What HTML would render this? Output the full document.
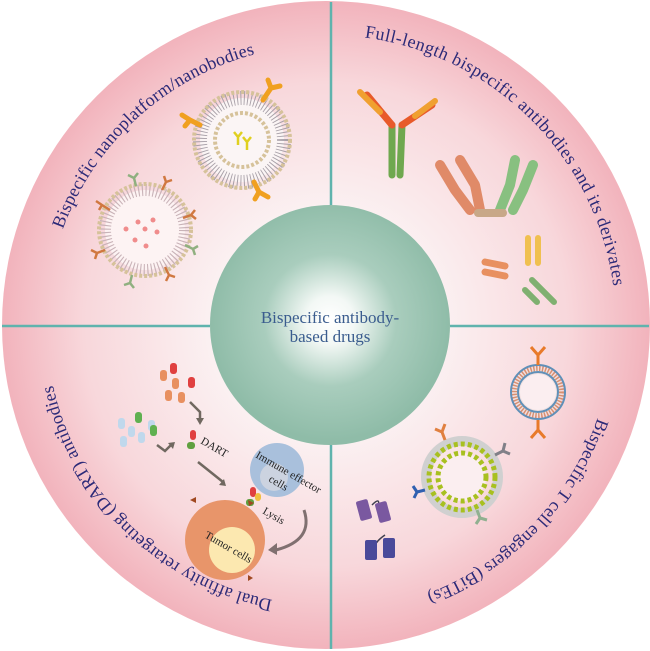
<!DOCTYPE html>
<html><head><meta charset="utf-8"><style>
html,body{margin:0;padding:0;background:#fff;}
svg{display:block;}
</style></head><body>
<svg width="650" height="651" viewBox="0 0 650 651" xmlns="http://www.w3.org/2000/svg">
<defs>
<radialGradient id="pink" cx="50%" cy="50%" r="50%">
<stop offset="0.35" stop-color="#fbf1f2"/>
<stop offset="0.75" stop-color="#f8d7db"/>
<stop offset="1" stop-color="#f2b3bc"/>
</radialGradient>
<radialGradient id="teal" cx="50%" cy="48%" r="50%">
<stop offset="0" stop-color="#ffffff"/>
<stop offset="0.2" stop-color="#f3f8f5"/>
<stop offset="0.55" stop-color="#a9cdbd"/>
<stop offset="1" stop-color="#8fbca8"/>
</radialGradient>
<!-- center 326,325 -->
<path id="pTL" d="M 62.9 229.2 A 280 280 0 0 1 255.9 53.9"/>
<path id="pTR" d="M 364.5 37.4 A 290 290 0 0 1 613.5 286.7"/>
<path id="pBR" d="M 597.5 417.9 A 287 287 0 0 1 424.2 594.7"/>
<path id="pBL" d="M 272.6 599.9 A 280 280 0 0 1 52.5 383.2"/>
</defs>
<circle cx="326" cy="325" r="324" fill="url(#pink)"/>
<g stroke="#5fb3ad" stroke-width="2.5">
<line x1="331" y1="2" x2="331" y2="205"/>
<line x1="331" y1="445" x2="331" y2="649"/>
<line x1="2" y1="326" x2="210" y2="326"/>
<line x1="450" y1="326" x2="649" y2="326"/>
</g>
<circle cx="330" cy="325" r="120" fill="url(#teal)"/>
<g font-family="Liberation Serif, serif" font-size="17" fill="#3a5c8e" text-anchor="middle">
<text x="330" y="323">Bispecific antibody-</text>
<text x="330" y="342">based drugs</text>
</g>
<g font-family="Liberation Serif, serif" font-size="18" fill="#2c2a78">
<text><textPath href="#pTL" textLength="270" lengthAdjust="spacing">Bispecific nanoplatform/nanobodies</textPath></text>
<text><textPath href="#pTR" textLength="378" lengthAdjust="spacing">Full-length bispecific antibodies and its derivates</textPath></text>
<text><textPath href="#pBR" textLength="253" lengthAdjust="spacing">Bispecific T cell engagers (BiTEs)</textPath></text>
<text><textPath href="#pBL" textLength="325" lengthAdjust="spacing">Dual affinity retargeting (DART) antibodies</textPath></text>
</g>
<!-- top-left liposomes -->
<circle cx="145" cy="230" r="40" fill="#fdf3f3" stroke="#c9b3b8" stroke-width="12" stroke-dasharray="1.2 2.5"/>
<circle cx="145" cy="230" r="46" fill="none" stroke="#d6c29a" stroke-width="4" stroke-dasharray="3 2"/>
<g fill="#f08c8c"><circle cx="138" cy="222" r="2.5"/><circle cx="153" cy="220" r="2.5"/><circle cx="145" cy="229" r="2.5"/><circle cx="126" cy="229" r="2.5"/><circle cx="157" cy="232" r="2.5"/><circle cx="135" cy="240" r="2.5"/><circle cx="146" cy="246" r="2.5"/></g>
<circle cx="242" cy="140" r="42" fill="#fbf5f5" stroke="#a8a0a8" stroke-width="14" stroke-dasharray="1 2.5"/>
<circle cx="242" cy="140" r="48" fill="none" stroke="#d6c29a" stroke-width="4" stroke-dasharray="3 2"/>
<circle cx="242" cy="140" r="27" fill="none" stroke="#d6c29a" stroke-width="4" stroke-dasharray="3 2"/>
<circle cx="242" cy="140" r="24" fill="#fbf5f5"/>
<g stroke="#e0d020" stroke-width="2.5" fill="none"><path d="M238 137 l0 8 M238 137 l-4 -5 M238 137 l4 -5 M247 142 l0 8 M247 142 l-4 -5 M247 142 l4 -5"/></g>
<g stroke="#f0a020" stroke-width="5" stroke-linecap="round" fill="none">
<path d="M200 125 l-10 -5 M190 120 l-8 -5 M190 120 l-5 6"/>
<path d="M263 100 l8 -12 M271 88 l-3 -8 M271 88 l9 -2"/>
<path d="M254 182 l5 10 M259 192 l-4 7 M259 192 l9 5"/>
</g>
<g stroke="#d07840" stroke-width="2.5" fill="none">
<path d="M110 210 l-8 -5 M102 205 l-6 -4 M102 205 l-3 5"/>
<path d="M162 190 l4 -8 M166 182 l-2 -6 M166 182 l6 -2"/>
<path d="M183 218 l8 -3 M191 215 l4 -5 M191 215 l5 4"/>
<path d="M105 250 l-8 3 M97 253 l-6 -3 M97 253 l-2 6"/>
<path d="M165 267 l4 8 M169 275 l-3 6 M169 275 l6 2"/>
</g>
<g stroke="#90b080" stroke-width="2.5" fill="none">
<path d="M136 186 l-2 -8 M134 178 l-6 -3 M134 178 l4 -5"/>
<path d="M185 245 l8 4 M193 249 l2 6 M193 249 l5 -3"/>
<path d="M132 275 l-2 8 M130 283 l-6 2 M130 283 l4 5"/>
</g>
<!-- top-right antibodies -->
<g stroke-linecap="round" fill="none">
<path d="M392 125 l0 50 M402 125 l-2 50" stroke="#6fa84f" stroke-width="7"/>
<path d="M392 125 l-25 -30 M402 125 l30 -20" stroke="#e85a2a" stroke-width="7"/>
<path d="M380 112 l-20 -20 M415 116 l20 -15" stroke="#f0a030" stroke-width="6"/>
<path d="M440 165 l15 25 M455 190 l15 20 M460 160 l15 25 M475 185 l5 25" stroke="#e08a68" stroke-width="10"/>
<path d="M515 160 l-5 25 M510 185 l-10 25 M533 165 l-10 25 M523 190 l-10 20" stroke="#88c080" stroke-width="10"/>
<path d="M478 213 l25 0" stroke="#c8a888" stroke-width="8"/>
<path d="M485 262 l20 4 M485 272 l20 4" stroke="#e89060" stroke-width="7"/>
<path d="M528 238 l0 25 M538 238 l0 25" stroke="#f0c050" stroke-width="6"/>
<path d="M532 280 l12 12 M544 292 l10 10 M525 290 l12 12" stroke="#7fb070" stroke-width="6"/>
</g>
<!-- bottom-right -->
<circle cx="538" cy="392" r="24" fill="#f0e0e0" stroke="#d89070" stroke-width="6" stroke-dasharray="1.5 1.5"/>
<circle cx="538" cy="392" r="27" fill="none" stroke="#6090b8" stroke-width="2"/>
<circle cx="538" cy="392" r="20" fill="none" stroke="#6090b8" stroke-width="2"/>
<circle cx="538" cy="392" r="18" fill="#fbeef0"/>
<path d="M538 365 l0 -10 M538 355 l-7 -8 M538 355 l7 -8 M538 420 l0 10 M538 430 l-7 8 M538 430 l7 8" stroke="#e87a2a" stroke-width="3" fill="none"/>
<circle cx="462" cy="477" r="36" fill="none" stroke="#d0d0d0" stroke-width="10"/>
<circle cx="462" cy="477" r="33" fill="none" stroke="#a8c020" stroke-width="5" stroke-dasharray="4 3"/>
<circle cx="462" cy="477" r="24" fill="#fbeef0" stroke="#a8c020" stroke-width="5" stroke-dasharray="4 3"/>
<circle cx="462" cy="477" r="20" fill="#fbeef0"/>
<g fill="none" stroke-width="3">
<path d="M445 440 l-3 -8 M442 432 l-7 -3 M442 432 l3 -8" stroke="#e08040"/>
<path d="M495 455 l8 -4 M503 451 l2 -8 M503 451 l7 3" stroke="#808088"/>
<path d="M425 490 l-8 2 M417 492 l-4 -6 M417 492 l-3 6" stroke="#3060b0"/>
<path d="M477 510 l3 8 M480 518 l-4 6 M480 518 l7 2" stroke="#90b090"/>
</g>
<path d="M372 505 q10 -10 5 5 M385 535 q-15 10 -10 20" stroke="#404050" stroke-width="1.5" fill="none"/>
<rect x="358" y="500" width="12" height="20" rx="2" fill="#7a58a0" transform="rotate(-15 364 510)"/>
<rect x="377" y="502" width="12" height="20" rx="2" fill="#7a58a0" transform="rotate(-15 383 512)"/>
<rect x="365" y="540" width="12" height="20" rx="2" fill="#4a4a9a"/>
<rect x="383" y="538" width="12" height="20" rx="2" fill="#4a4a9a"/>
<!-- bottom-left DART -->
<circle cx="277" cy="470" r="27" fill="#a9c0dc"/>
<circle cx="274" cy="477" r="14" fill="#ccd3e0"/>
<circle cx="225" cy="540" r="40" fill="#e8956a"/>
<circle cx="232" cy="550" r="23" fill="#fce8b0"/>
<g fill="#e89060"><rect x="160" y="370" width="7" height="11" rx="3"/><rect x="172" y="378" width="7" height="11" rx="3"/><rect x="165" y="390" width="7" height="11" rx="3"/><rect x="178" y="392" width="7" height="11" rx="3"/><rect x="188" y="377" width="7" height="11" rx="3" fill="#e04040"/><rect x="170" y="363" width="7" height="11" rx="3" fill="#e04040"/></g>
<g fill="#c0d8ec"><rect x="118" y="418" width="7" height="11" rx="3"/><rect x="128" y="426" width="7" height="11" rx="3"/><rect x="120" y="436" width="7" height="11" rx="3"/><rect x="138" y="432" width="7" height="11" rx="3"/><rect x="148" y="420" width="7" height="11" rx="3"/><rect x="135" y="412" width="7" height="11" rx="3" fill="#60b050"/><rect x="150" y="425" width="7" height="11" rx="3" fill="#60b050"/></g>
<g stroke="#706860" stroke-width="2.5" fill="none">
<path d="M190 402 l10 10 l0 8"/>
<path d="M157 445 l8 6 l6 -6"/>
<path d="M198 462 l25 20"/>
</g>
<path d="M196 418 l8 0 l-4 7 z M168 443 l7 -1 l-2 7 z M219 485 l7 1 l-2 -7 z" fill="#706860"/>
<rect x="190" y="430" width="6" height="10" rx="3" fill="#e04040"/><rect x="187" y="442" width="8" height="7" rx="3" fill="#60a040"/>
<rect x="250" y="487" width="6" height="10" rx="3" fill="#e04040"/><rect x="246" y="499" width="8" height="7" rx="3" fill="#60a040"/><rect x="255" y="493" width="6" height="8" rx="3" fill="#f0c040"/>
<path d="M304 510 q10 30 -28 40" stroke="#807070" stroke-width="3" fill="none"/>
<path d="M268 550 l9 -7 l0 12 z" fill="#807070"/>
<path d="M190 500 l6 -3 l0 6 z M248 500 l6 3 l-5 3 z M248 575 l5 3 l-5 3 z" fill="#a04820"/>
<g font-family="Liberation Serif, serif" font-size="11" fill="#222">
<text x="200" y="443" transform="rotate(30 200 443)">DART</text>
<text x="255" y="457" transform="rotate(30 255 457)">Immune effector</text>
<text x="268" y="481" transform="rotate(30 268 481)">cells</text>
<text x="262" y="513" transform="rotate(30 262 513)">Lysis</text>
<text x="204" y="537" transform="rotate(30 204 537)">Tumor cells</text>
</g>
</svg>
</body></html>
